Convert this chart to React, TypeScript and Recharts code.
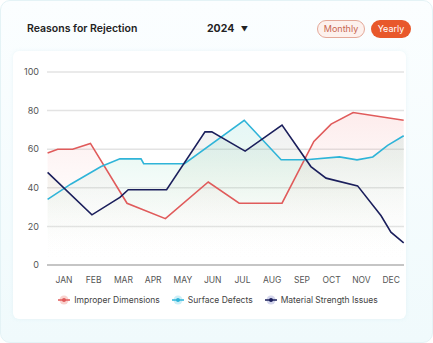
import React from "react";
import {
  ComposedChart,
  Area,
  Line,
  XAxis,
  YAxis,
  CartesianGrid,
} from "recharts";

const months = ["JAN", "FEB", "MAR", "APR", "MAY", "JUN", "JUL", "AUG", "SEP", "OCT", "NOV", "DEC"];
const yTicks = [0, 20, 40, 60, 80, 100];

const improperX = [-0.55, -0.21, 0.29, 0.89, 2.12, 3.41, 4.85, 5.89, 7.33, 8.4, 8.98, 9.72, 11.42];
const improperY = [58, 60, 60, 63, 32, 24, 43, 32, 32, 64, 73, 79, 75];

const surfaceX = [-0.55, 0.24, 1.25, 1.88, 2.59, 2.68, 4.05, 6.06, 7.3, 8.14, 9.26, 9.85, 10.38, 10.88, 11.42];
const surfaceY = [34, 42, 51, 55, 55, 52.5, 52.5, 75, 54.5, 54.5, 56, 54.5, 56, 62, 67];

const strengthX = [-0.55, 0.94, 1.88, 2.16, 3.45, 4.74, 4.97, 6.09, 7.33, 8.3, 8.81, 9.87, 10.66, 10.99, 11.42];
const strengthY = [48, 26, 35, 39, 39, 69, 69, 59, 72.5, 51, 45, 41, 25.5, 17, 11.5];

const series = [
  { key: "improper", name: "Improper Dimensions", color: "#e05b5b", halo: "#f9d3cf" },
  { key: "surface", name: "Surface Defects", color: "#2fb4d8", halo: "#cdeff7" },
  { key: "strength", name: "Material Strength Issues", color: "#1b1f5c", halo: "#d4d6ec" },
];

function buildData() {
  const rows: Record<string, any> = {};
  const add = (xs: number[], ys: number[], key: string) => {
    xs.forEach((x, i) => {
      if (!rows[x]) rows[x] = { x };
      rows[x][key] = ys[i];
    });
  };
  add(improperX, improperY, "improper");
  add(surfaceX, surfaceY, "surface");
  add(strengthX, strengthY, "strength");
  return Object.values(rows).sort((a: any, b: any) => a.x - b.x);
}

const data = buildData();

const font = "Inter, 'Noto Sans', sans-serif";

function LegendIcon({ color, halo }: { color: string; halo: string }) {
  return (
    <svg width={14} height={10} style={{ marginRight: 3 }}>
      <circle cx={7} cy={5} r={4.5} fill={halo} />
      <line x1={1} y1={5} x2={13} y2={5} stroke={color} strokeWidth={1.3} />
      <circle cx={7} cy={5} r={2} fill={color} />
    </svg>
  );
}

export default function App() {
  return (
    <div
      style={{
        position: "absolute",
        left: 0,
        top: 0,
        width: 433,
        height: 343,
        boxSizing: "border-box",
        borderRadius: 10,
        border: "1px solid #e4f3f6",
        background: "linear-gradient(180deg, #fbfeff 0%, #f0fafc 100%)",
        fontFamily: font,
        overflow: "hidden",
      }}
    >
      <div
        style={{
          position: "absolute",
          left: 12,
          top: 50,
          width: 393,
          height: 268,
          background: "#ffffff",
          borderRadius: 6,
          boxShadow: "0 0 4px rgba(160,210,220,0.18)",
        }}
      />
      <div style={{ position: "absolute", left: 26, top: 21, fontSize: 10.5, fontWeight: 600, color: "#222" }}>
        Reasons for Rejection
      </div>
      <div style={{ position: "absolute", left: 206, top: 21, fontSize: 10.5, fontWeight: 700, color: "#222" }}>
        2024 <span style={{ fontSize: 7, marginLeft: 4 }}>▼</span>
      </div>
      <div
        style={{
          position: "absolute",
          left: 316,
          top: 19,
          width: 48,
          height: 18,
          boxSizing: "border-box",
          border: "1px solid #e4a898",
          background: "#fdf1ed",
          borderRadius: 9,
          color: "#c8664f",
          fontSize: 9,
          lineHeight: "16px",
          textAlign: "center",
        }}
      >
        Monthly
      </div>
      <div
        style={{
          position: "absolute",
          left: 370,
          top: 19,
          width: 40,
          height: 18,
          background: "#e8582b",
          borderRadius: 9,
          color: "#fff",
          fontSize: 9,
          lineHeight: "18px",
          textAlign: "center",
        }}
      >
        Yearly
      </div>
      <div style={{ position: "absolute", left: 0, top: 0 }}>
        <ComposedChart width={433} height={285} data={data} margin={{ top: 71, right: 30, bottom: 0, left: 16 }}>
          <defs>
            <linearGradient id="gImproper" x1="0" y1="71" x2="0" y2="264" gradientUnits="userSpaceOnUse">
              <stop offset="0%" stopColor="#f25c5c" stopOpacity={0.3} />
              <stop offset="55%" stopColor="#f09090" stopOpacity={0.1} />
              <stop offset="100%" stopColor="#ffffff" stopOpacity={0} />
            </linearGradient>
            <linearGradient id="gSurface" x1="0" y1="71" x2="0" y2="264" gradientUnits="userSpaceOnUse">
              <stop offset="0%" stopColor="#3cb8ea" stopOpacity={0.3} />
              <stop offset="45%" stopColor="#5fd0a8" stopOpacity={0.2} />
              <stop offset="100%" stopColor="#ffffff" stopOpacity={0} />
            </linearGradient>
            <linearGradient id="gStrength" x1="0" y1="71" x2="0" y2="264" gradientUnits="userSpaceOnUse">
              <stop offset="0%" stopColor="#34349a" stopOpacity={0.2} />
              <stop offset="55%" stopColor="#9ab07a" stopOpacity={0.15} />
              <stop offset="100%" stopColor="#ffffff" stopOpacity={0} />
            </linearGradient>
          </defs>
          <CartesianGrid vertical={false} stroke="#e3e3e3" strokeWidth={1.5} />
          <XAxis
            dataKey="x"
            type="number"
            domain={[-0.57, 11.43]}
            ticks={months.map((_, i) => i)}
            tickFormatter={(v: number) => months[v]}
            interval={0}
            height={21}
            tickLine={false}
            axisLine={{ stroke: "#b9b9b9", strokeWidth: 1.5 }}
            tick={{ fontSize: 8.5, fill: "#555", fontFamily: font }}
            tickMargin={6}
          />
          <YAxis
            domain={[0, 100]}
            ticks={yTicks}
            width={30}
            tickLine={false}
            axisLine={false}
            tick={{ fontSize: 9, fill: "#555", fontFamily: font }}
            tickMargin={2}
          />
          <Area dataKey="strength" type="linear" stroke="none" fill="url(#gStrength)" connectNulls isAnimationActive={false} />
          <Area dataKey="surface" type="linear" stroke="none" fill="url(#gSurface)" connectNulls isAnimationActive={false} />
          <Area dataKey="improper" type="linear" stroke="none" fill="url(#gImproper)" connectNulls isAnimationActive={false} />
          {series.map((s) => (
            <Line
              key={s.key}
              dataKey={s.key}
              type="linear"
              stroke={s.color}
              strokeWidth={1.6}
              dot={false}
              activeDot={false}
              connectNulls
              isAnimationActive={false}
            />
          ))}
        </ComposedChart>
      </div>
      <div
        style={{
          position: "absolute",
          left: 0,
          top: 294,
          width: 433,
          display: "flex",
          justifyContent: "center",
          gap: 11,
          fontSize: 8.5,
          color: "#444",
        }}
      >
        {series.map((s) => (
          <div key={s.key} style={{ display: "flex", alignItems: "center" }}>
            <LegendIcon color={s.color} halo={s.halo} />
            {s.name}
          </div>
        ))}
      </div>
    </div>
  );
}
